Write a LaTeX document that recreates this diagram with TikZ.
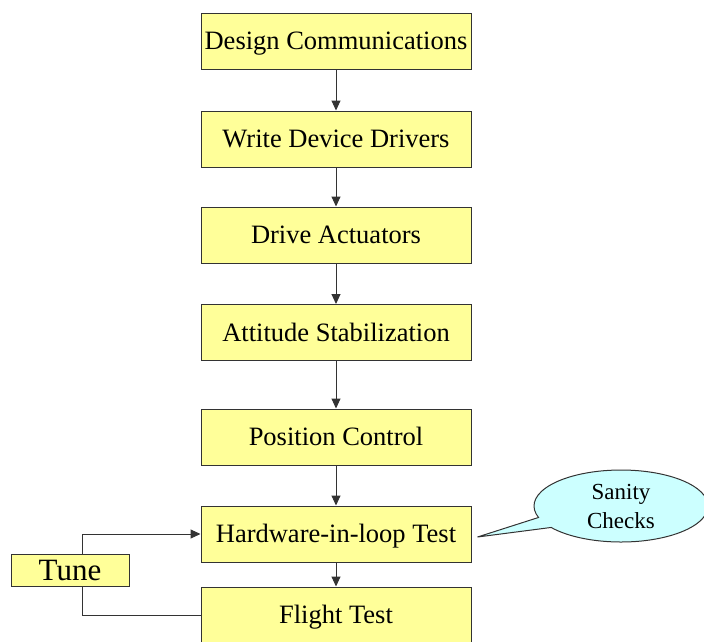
\documentclass[tikz,border=0pt]{standalone}
\usepackage{fontspec}
\setmainfont{Liberation Serif}
\usetikzlibrary{arrows.meta,shapes.callouts,calc}
\definecolor{boxfill}{HTML}{FFFF99}
\definecolor{boxline}{HTML}{333333}
\definecolor{cloudfill}{HTML}{CCFFFF}
\tikzset{
  stepbox/.style={draw=boxline, line width=1pt, fill=boxfill, minimum width=270pt, minimum height=56pt, inner sep=0pt, text height=17.5pt, text depth=0pt, font=\fontsize{26.5}{30}\selectfont},
  tunebox/.style={draw=boxline, line width=1pt, fill=boxfill, minimum width=118pt, minimum height=32pt, inner sep=0pt, text height=20.5pt, text depth=0pt, font=\fontsize{31}{33}\selectfont},
  link/.style={draw=boxline, line width=1pt},
  tip/.style={-{Triangle[length=10pt,width=9pt]}},
}
\begin{document}
\begin{tikzpicture}[x=1pt,y=-1pt]
\useasboundingbox (0,0) rectangle (704,641);
\clip (0,0) rectangle (704,641);
\node[stepbox] (dc) at (336,41) {Design Communications};
\node[stepbox] (wd) at (336,139) {Write Device Drivers};
\node[stepbox] (da) at (336,235) {Drive Actuators};
\node[stepbox] (as) at (336,332.5) {Attitude Stabilization};
\node[stepbox] (pc) at (336,437) {Position Control};
\node[stepbox] (hw) at (336,534) {Hardware-in-loop Test};
\node[stepbox] (ft) at (336,615) {Flight Test};
\node[tunebox] (tu) at (70,570) {Tune};
\draw[link,tip] (dc) -- (wd);
\draw[link,tip] (wd) -- (da);
\draw[link,tip] (da) -- (as);
\draw[link,tip] (as) -- (pc);
\draw[link,tip] (pc) -- (hw);
\draw[link,tip] (hw) -- (ft);
\draw[link,tip] (tu.north -| 82,0) |- (hw.west);
\draw[link] (tu.south -| 82,0) |- (ft.west |- 0,615);
\coordinate (ptr) at ($(hw.east)+(6,3)$);
\node[ellipse callout, draw=boxline, line width=1pt, fill=cloudfill, minimum width=174pt, minimum height=72pt, inner sep=0pt, callout absolute pointer={(ptr)}, callout pointer arc=18, align=center, font=\fontsize{23}{29}\selectfont] (sc) at (621,506) {Sanity\\Checks};
\end{tikzpicture}
\end{document}
